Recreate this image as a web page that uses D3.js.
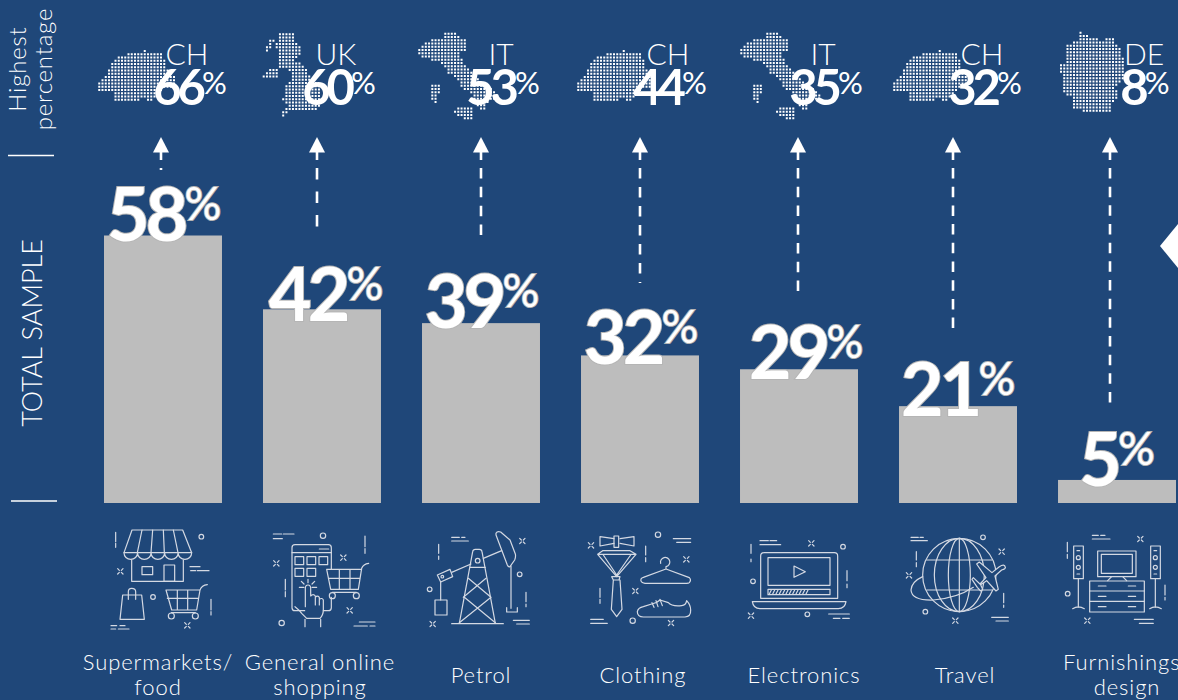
<!DOCTYPE html>
<html>
<head>
<meta charset="utf-8">
<script src="https://cdnjs.cloudflare.com/ajax/libs/d3/7.8.5/d3.min.js"></script>
<style>
  html, body { margin: 0; padding: 0; background: #1f4779; overflow: hidden; }
  svg { display: block; font-family: "Lato", "Open Sans", sans-serif; }
</style>
</head>
<body>
<svg id="chart" width="1178" height="700"></svg>
<script>
// Share of the total sample by purchase category
const categories = ["Supermarkets/ food", "General online shopping", "Petrol", "Clothing", "Electronics", "Travel", "Furnishings/ design"];
const totalSample = [58, 42, 39, 32, 29, 21, 5];

// Country with the highest share in each category
const topCountry = ["CH", "UK", "IT", "CH", "IT", "CH", "DE"];
const topShare = [66, 60, 53, 44, 35, 32, 8];

const categoryLines = [["Supermarkets/", "food"], ["General online", "shopping"], ["Petrol"], ["Clothing"], ["Electronics"], ["Travel"], ["Furnishings/", "design"]];

// Hand placement of the annotations around each column
const labelShift = [[1, 5], [4, 12], [1, 5], [1, 9], [7, 10], [0, 10], [0, 6]];
const arrowX = [161, 317, 481, 640, 798, 953, 1110];
const arrowEnd = [170, 228, 235, 283, 291, 328, 403];
const arrowDash = ["2 30", "11.5 12", "10.5 8.33", "10.5 8.5", "10.5 8.25", "10.5 8.2", "10.5 8.17"];
const captionX = [158, 320, 481, 643, 804, 965, 1127];
const countryX = [187, 336, 501, 668, 823, 982, 1144];
const shareX = [190, 339, 503, 670, 826, 985, 1145];
const mapX = [0, 0, 0, 479, 322, 795, 0];

const bg = "#1f4779", white = "#ffffff", barGrey = "#bdbdbd", iconLine = "#d4d9e3";

const svg = d3.select("#chart");
svg.append("rect").attr("width", 1178).attr("height", 700).attr("fill", bg);

const x = d3.scaleBand().domain(categories).range([104, 1176]).paddingInner(0.258);
const y = d3.scaleLinear().domain([0, 58]).range([503, 235.5]);

// Bars
svg.selectAll("rect.bar").data(categories).join("rect")
  .attr("class", "bar")
  .attr("x", d => x(d))
  .attr("width", x.bandwidth())
  .attr("y", (d, i) => y(totalSample[i]))
  .attr("height", (d, i) => y(0) - y(totalSample[i]))
  .attr("fill", barGrey);

// Value labels sitting on the bar tops
const valueLabels = svg.selectAll("text.value").data(totalSample).join("text")
  .attr("class", "value")
  .attr("text-anchor", "middle")
  .attr("x", (d, i) => x(categories[i]) + x.bandwidth() / 2 + labelShift[i][0])
  .attr("y", (d, i) => y(d) + labelShift[i][1])
  .attr("fill", white)
  .attr("stroke", "#b5b5b5")
  .attr("stroke-width", 2)
  .style("paint-order", "stroke");
valueLabels.append("tspan").text(d => d)
  .attr("font-size", 74).attr("font-weight", 700).attr("letter-spacing", -4);
valueLabels.append("tspan").text("%")
  .attr("font-size", 46).attr("font-weight", 400).attr("dy", -21);

// Arrows pointing from each bar to the country with the highest share
const arrows = svg.selectAll("g.arrow").data(arrowX).join("g").attr("class", "arrow");
arrows.append("path")
  .attr("d", d => d3.line()([[d, 137], [d + 8, 152.5], [d - 8, 152.5]]) + "Z")
  .attr("fill", white);
arrows.append("line")
  .attr("x1", d => d).attr("x2", d => d).attr("y1", 152).attr("y2", 160)
  .attr("stroke", white).attr("stroke-width", 2.6);
arrows.append("line")
  .attr("x1", d => d).attr("x2", d => d)
  .attr("y1", 168).attr("y2", (d, i) => arrowEnd[i])
  .attr("stroke", white).attr("stroke-width", 2.6)
  .attr("stroke-dasharray", (d, i) => arrowDash[i]);

// Dotted country silhouettes, given as outlines and filled on a regular grid
const mapShapes = {
  CH: [[[95, 90.7], [98.3, 87.3], [99, 80], [105, 75], [108.3, 68.3], [115, 58.3], [126.7, 55], [128.3, 52.7], [140, 53.3], [145, 50], [146.7, 51.7], [160, 53.3], [163.3, 60], [163.3, 66.7], [168.3, 71.7], [173.3, 75], [175, 83.3], [166.7, 86.7], [160, 88.3], [148.3, 101.7], [145, 96.7], [131.7, 98.3], [115, 99], [113.3, 90], [106.7, 87.3], [100, 90], [96.7, 91.7]]],
  UK: [[[278.3, 33.3], [291.7, 33.3], [291.7, 41.7], [298.3, 45], [297.7, 55], [290, 59.3], [301.7, 65], [308.3, 75], [318.3, 86.7], [320, 100], [313.3, 110], [286.7, 110], [279.3, 116.7], [280.7, 113.3], [290, 101.7], [279.3, 99.3], [286.7, 93.3], [283.3, 85], [293.3, 80], [288.3, 68.3], [276.7, 65], [278.3, 50], [276, 45]],
       [[263.3, 76], [270, 68.3], [275, 68.3], [275, 76]],
       [[262.7, 48.3], [268.3, 41.7], [271.7, 36.7], [271.7, 41.7], [266.7, 49.3]]],
  IT: [[[418.3, 50], [423.3, 41.7], [441.7, 38.3], [443.3, 34], [453.3, 32.7], [458.3, 36.7], [465, 40], [465, 48.3], [456.7, 53.3], [463.3, 63.3], [471.7, 75], [480, 80], [491.7, 90], [496.7, 95], [490, 98.3], [481.7, 108.3], [476.7, 105], [471.7, 93.3], [463.3, 86.7], [455, 76.7], [446.7, 70], [441.7, 61.7], [436.7, 56.7], [431.7, 60], [425, 55], [420, 55]],
       [[429.3, 82.7], [437.3, 82.7], [436.7, 91.7], [434, 101.7], [431.7, 100], [432.7, 88.3]],
       [[452.7, 109.3], [471.7, 106], [471.7, 118.3], [463.3, 117.3]]],
  DE: [[[1079.3, 31.7], [1081.7, 35], [1090, 36.7], [1100, 40], [1111.7, 38.3], [1120, 50], [1121.7, 70], [1125, 73.3], [1113.3, 85], [1115, 96.7], [1110, 103.3], [1108.3, 110.7], [1088.3, 110], [1072.7, 107.3], [1073.3, 96.7], [1063.3, 91.7], [1060, 63.3], [1066, 61.7], [1066, 45], [1078.3, 40]]]
};
const gridPitch = 3.25, dotSize = 2;
function dotsFor(shape) {
  const rings = mapShapes[shape];
  const pts = rings.flat();
  const [x0, x1] = d3.extent(pts, p => p[0]);
  const [y0, y1] = d3.extent(pts, p => p[1]);
  // A dot is kept when any part of its cell touches the outline, so thin parts survive
  const probes = [[0, 0], [1.2, 0], [-1.2, 0], [0, 1.2], [0, -1.2]];
  let d = "";
  for (const gy of d3.range(y0, y1 + 0.1, gridPitch)) {
    for (const gx of d3.range(x0, x1 + 0.1, gridPitch)) {
      if (rings.some(r => probes.some(p => d3.polygonContains(r, [gx + p[0], gy + p[1]])))) {
        d += `M${gx.toFixed(2)} ${gy.toFixed(2)}h${dotSize}v${dotSize}h-${dotSize}Z`;
      }
    }
  }
  return d;
}
svg.selectAll("path.map").data(topCountry).join("path")
  .attr("class", "map")
  .attr("d", d => dotsFor(d))
  .attr("transform", (d, i) => `translate(${mapX[i]},0)`)
  .attr("fill", white);

// Country codes and their shares
svg.selectAll("text.country").data(topCountry).join("text")
  .attr("class", "country")
  .attr("text-anchor", "middle")
  .attr("x", (d, i) => countryX[i])
  .attr("y", 65)
  .attr("font-size", 30).attr("font-weight", 300)
  .attr("fill", white)
  .text(d => d);
const shares = svg.selectAll("text.share").data(topShare).join("text")
  .attr("class", "share")
  .attr("text-anchor", "middle")
  .attr("x", (d, i) => shareX[i])
  .attr("y", 105)
  .attr("fill", white);
shares.append("tspan").text(d => d)
  .attr("font-size", 49).attr("font-weight", 700).attr("letter-spacing", -4);
shares.append("tspan").text("%")
  .attr("font-size", 31).attr("font-weight", 400).attr("dy", -11);

// Row headings and their rules
function rotated(txt, baseX, cy, size, spacing) {
  svg.append("text")
    .attr("transform", `translate(${baseX},${cy}) rotate(-90)`)
    .attr("text-anchor", "middle")
    .attr("font-size", size).attr("font-weight", 300)
    .attr("letter-spacing", spacing)
    .attr("fill", white)
    .text(txt);
}
rotated("Highest", 26, 69, 24, 0.8);
rotated("percentage", 52, 69, 24, 0.8);
rotated("TOTAL SAMPLE", 42, 333, 27, 0);
svg.append("line").attr("x1", 8).attr("x2", 54).attr("y1", 155.5).attr("y2", 155.5).attr("stroke", white).attr("stroke-width", 1.6);
svg.append("line").attr("x1", 11).attr("x2", 57).attr("y1", 501).attr("y2", 501).attr("stroke", white).attr("stroke-width", 1.6);

// Navigation tab cut off by the right edge
svg.append("path").attr("d", "M1178 224L1160 246L1178 268Z").attr("fill", white);

// Line-art pictograms. Paths are authored on a 3x grid relative to each panel origin.
const sparkle = (cx, cy) => {
  const a = 3, b = 8;
  return `M${cx - b} ${cy - b}L${cx - a} ${cy - a}M${cx + b} ${cy - b}L${cx + a} ${cy - a}M${cx - b} ${cy + b}L${cx - a} ${cy + a}M${cx + b} ${cy + b}L${cx + a} ${cy + a}`;
};
const ring = (cx, cy, r) => `M${cx - r} ${cy}a${r} ${r} 0 1 0 ${2 * r} 0a${r} ${r} 0 1 0 ${-2 * r} 0`;
const bang = (cx, y0, y1, y2, y3) => `M${cx} ${y0}V${y1}M${cx} ${y2}V${y3}`;
const box = (x0, y0, w, h) => `M${x0} ${y0}h${w}v${h}h${-w}Z`;

const iconPanels = [
  { origin: [80, 510], d: [
    // storefront
    "M132 128L156 60H308L335 128H132",
    "M132 128a20.3 20.3 0 0 0 40.6 0a20.3 20.3 0 0 0 40.6 0a20.3 20.3 0 0 0 40.6 0a20.3 20.3 0 0 0 40.6 0a20.3 20.3 0 0 0 40.6 0",
    "M172 128L186 60M213 128L218 60M253 128L250 60M294 128L280 60",
    "M155 150V214H310V150", box(186, 170, 32, 24), box(252, 165, 32, 49),
    // bag and trolley
    "M128 255H185L193 328H120Z", "M145 268V245Q145 235 155 235Q167 235 167 245V268",
    "M382 224Q365 226 360 240L350 300H275L258 240H360M262 265H355M292 240V298M323 240V298M274 308H346",
    ring(274, 318, 9), ring(346, 318, 9),
    // ornaments
    bang(107, 67, 95, 100, 112), ring(364, 80, 7), "M330 170H360M332 182H347M352 182H387",
    sparkle(121, 184), ring(219, 261, 7), bang(393, 268, 300, 305, 315),
    "M93 347H110M120 347H135M93 357H107M115 357H147", sparkle(322, 346),
    // phone
    "M674 302H645Q636 302 636 293V113Q636 104 645 104H745Q754 104 754 113V178M754 262V293Q754 302 745 302H730",
    "M636 128H754M718 117H746",
    box(645, 140, 26, 24), box(681, 140, 26, 24), box(717, 140, 26, 24), box(645, 175, 26, 24), box(681, 175, 26, 24),
    // pointing hand
    "M676 290V235Q676 225 684 225Q692 225 692 235V258Q700 250 706 258V285M706 262Q712 255 718 262V285M718 268Q726 262 730 270V300Q730 315 720 325H680L665 310Q658 300 645 290",
    "M675 328V350M722 328V350",
    "M684 208V218M658 232H672M696 232H710M664 214L672 222M704 214L696 222",
    // trolley
    "M866 160Q850 162 845 175L835 238H752L740 178H845M745 205H840M778 178V236M810 178V236M757 247H829",
    ring(757, 257, 9), ring(829, 257, 9),
    // ornaments
    "M580 72H605M610 72H642M580 86H607", ring(729, 77, 8), bang(855, 78, 110, 116, 130),
    sparkle(790, 143), sparkle(589, 160), bang(616, 208, 240, 245, 260), sparkle(809, 301), ring(605, 339, 8),
    "M838 336H885M822 348H862M870 348H885"
  ] },
  { origin: [410, 510], d: [
    // pump jack
    "M148 340L188 125Q189 118 196 118H208Q215 118 216 125L256 340",
    "M180 172H226M175 205L243 262M228 205L160 262M163 262L256 338M243 262L148 338M125 341H280",
    ring(203, 152, 7), "M125 187L183 162M220 145L275 122",
    "M82 195L120 178L128 200L92 216Z", ring(97, 200, 4), "M92 216V270", box(75, 270, 36, 45),
    "M258 70Q262 62 272 66L300 90L316 132Q318 140 314 150L300 170Q295 172 292 165L258 75Z",
    "M303 168V295M290 293V306H322V293",
    "M125 82H148M125 93H175M155 82H165", sparkle(337, 93), bang(86, 103, 130, 138, 148), ring(329, 193, 7),
    ring(59, 238, 7), bang(348, 247, 275, 282, 290), sparkle(68, 342), "M310 331H358M320 342H358",
    // bow tie
    "M612 86L570 80V108L612 100M630 86L672 80V108L630 100", box(612, 78, 14, 34),
    // necktie
    "M578 122H660L678 133L620 200L563 133ZM563 133H678M580 135L620 195L662 135",
    "M605 200H630L627 210H610ZM610 210L604 298L620 320L636 298L630 210",
    // hanger
    "M752 160A14 14 0 1 1 768 170V177L838 203Q845 210 838 218Q836 220 830 220H705Q690 218 693 207Q694 204 700 202L768 177",
    // shoe
    "M682 305Q684 293 700 290L725 282Q740 280 750 270L775 278Q785 290 815 287Q828 286 830 272Q842 285 842 300Q843 320 825 321H700Q682 320 682 305Z",
    "M726 278L732 292M738 272L744 290M750 268L757 287",
    sparkle(543, 106), ring(744, 74, 8), "M790 86H842M800 97H842", bang(707, 108, 135, 143, 155), sparkle(829, 148),
    bang(570, 235, 262, 268, 280), sparkle(676, 243), ring(668, 332, 8), "M542 328H580M542 340H592", sparkle(783, 339)
  ] },
  { origin: [730, 510], d: [
    // laptop
    "M92 265V138Q92 128 102 128H313Q323 128 323 138V265Z", box(114, 143, 186, 83), "M192 168L226 185L192 202Z",
    box(114, 238, 186, 16),
    d3.range(118, 236, 10).map(v => `M${v} 252L${v + 6} 240`).join(""),
    "M67 275H348Q345 296 325 296H90Q70 296 67 275Z",
    bang(63, 103, 130, 147, 155), "M90 92H115M120 92H140M90 104H152", sparkle(244, 100), ring(339, 110, 7),
    bang(351, 182, 212, 222, 233), ring(69, 214, 7), sparkle(63, 317), ring(232, 313, 7), "M296 312H358M310 325H330M338 325H358",
    // globe
    ring(688, 195, 110),
    "M688 85A75 110 0 0 0 688 305A75 110 0 0 0 688 85",
    "M688 85A33 110 0 0 0 688 305A33 110 0 0 0 688 85",
    "M688 85V305M590 150H786M590 240H786",
    "M730 232Q680 265 610 270Q545 272 543 240Q545 215 578 200",
    "M543 82H565M570 82H580M543 92H592", ring(759, 82, 7), sparkle(815, 125), bang(559, 125, 150, 158, 170),
    sparkle(537, 196), bang(821, 250, 278, 285, 292), ring(586, 305, 7), sparkle(676, 332), "M785 322H835M798 333H835",
    // home cinema
    box(1103, 123, 115, 77), box(1114, 133, 93, 57), "M1133 212L1145 200M1190 212L1178 200",
    box(1079, 213, 164, 93), "M1079 243H1243M1079 274H1243",
    "M1105 228H1128M1195 228H1217M1105 259H1128M1195 259H1217M1105 290H1128M1195 290H1217",
    box(1031, 108, 29, 98), ring(1045, 143, 6), ring(1045, 172, 6), "M1041 122H1049M1041 192H1049",
    "M1045 206V292M1028 296Q1045 285 1063 296",
    box(1262, 108, 29, 98), ring(1276, 143, 6), ring(1276, 172, 6), "M1272 122H1280M1272 192H1280",
    "M1276 206V292M1259 296Q1276 285 1294 296",
    bang(1012, 97, 125, 133, 145), "M1087 76H1105M1112 76H1125M1087 87H1140", sparkle(1231, 87), ring(1013, 251, 7),
    bang(1305, 225, 255, 262, 270), sparkle(1072, 332), "M1213 328H1270M1228 340H1270"
  ] }
];
const iconLayer = svg.selectAll("g.icons").data(iconPanels).join("g")
  .attr("class", "icons")
  .attr("transform", d => `translate(${d.origin}) scale(${1 / 3})`);
iconLayer.selectAll("path").data(d => d.d).join("path")
  .attr("d", d => d)
  .attr("fill", "none")
  .attr("stroke", iconLine)
  .attr("stroke-width", 3.6)
  .attr("stroke-linejoin", "round")
  .attr("stroke-linecap", "round");
// Aeroplane over the globe, filled so the grid does not show through
svg.append("path")
  .attr("transform", "translate(730,510) scale(0.3333)")
  .attr("d", "M826 172Q824 160 808 170L786 188L748 156L740 162L768 203L750 222L730 203L726 208L742 232L752 243L758 238L752 224L770 212L798 243L805 238L795 198L815 180Q828 176 826 172Z")
  .attr("fill", bg).attr("stroke", iconLine).attr("stroke-width", 3.6).attr("stroke-linejoin", "round");

// Category captions
const captions = svg.selectAll("text.caption").data(categoryLines).join("text")
  .attr("class", "caption")
  .attr("text-anchor", "middle")
  .attr("font-size", 22).attr("font-weight", 300)
  .attr("letter-spacing", 0.9)
  .attr("fill", white);
captions.selectAll("tspan").data((d, i) => d.map(line => ({ line, i, n: d.length }))).join("tspan")
  .attr("x", d => captionX[d.i])
  .attr("y", (d, j) => d.n === 1 ? 683 : 670 + j * 25)
  .text(d => d.line);
</script>
</body>
</html>
